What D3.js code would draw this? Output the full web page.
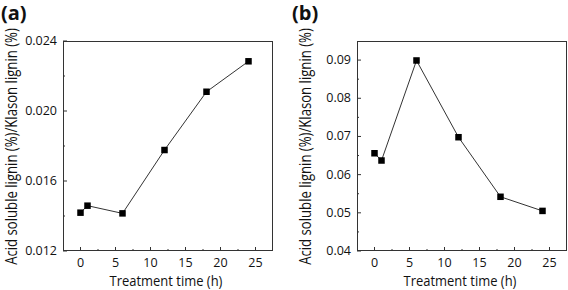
<!DOCTYPE html>
<html>
<head>
<meta charset="utf-8">
<script src="https://cdn.jsdelivr.net/npm/d3@7"></script>
<style>
  body { margin: 0; background: #fff; }
  text { font-family: "Open Sans", "Noto Sans", sans-serif; fill: #111; }
</style>
</head>
<body>
<div id="chart"></div>
<script>
// treatment times (h)
const times = [0, 1, 6, 12, 18, 24];
// panel (a) ratio values
const ratioA = [0.01419, 0.01459, 0.01415, 0.01777, 0.0211, 0.02284];
// panel (b) ratio values
const ratioB = [0.0656, 0.0637, 0.0899, 0.0698, 0.0542, 0.0505];

const xTicks = [0, 5, 10, 15, 20, 25];
const yTicksA = [0.012, 0.016, 0.020, 0.024];
const yTicksB = [0.04, 0.05, 0.06, 0.07, 0.08, 0.09];

const panels = [
    {label: "(a)", values: ratioA, yDomain: [0.012, 0.024], yTicks: yTicksA, yMinor: [0.014, 0.018, 0.022], fmt: d3.format(".3f"),
     left: 63, labelX: 1},
    {label: "(b)", values: ratioB, yDomain: [0.04, 0.095], yTicks: yTicksB, yMinor: [0.045, 0.055, 0.065, 0.075, 0.085], fmt: d3.format(".2f"),
     left: 357, labelX: 292}
];

const width = 568, height = 290;
const svg = d3.select("#chart").append("svg")
    .attr("width", width)
    .attr("height", height);

const plotTop = 41, plotBottom = 251, plotW = 210;

// squeeze a title horizontally (in its own frame) so it fits a target length
function fitTitle(sel, target, baseTransform) {
    let natural = sel.node().getComputedTextLength();
    let sx = Math.min(1, target / natural);
    sel.attr("transform", `${baseTransform} scale(${sx},1)`);
}

panels.forEach(p => {
    let x = d3.scaleLinear().domain([-2.5, 27.5]).range([p.left, p.left + plotW]);
    let y = d3.scaleLinear().domain(p.yDomain).range([plotBottom, plotTop]);

    let g = svg.append("g");

    // frame
    g.append("rect")
        .attr("x", p.left + 0.5).attr("y", plotTop + 0.5)
        .attr("width", plotW - 1).attr("height", plotBottom - plotTop - 1)
        .attr("fill", "none").attr("stroke", "#333").attr("stroke-width", 1);

    // x ticks (inward)
    g.selectAll(".xt").data(xTicks).enter().append("line")
        .attr("x1", d => x(d)).attr("x2", d => x(d))
        .attr("y1", plotBottom).attr("y2", plotBottom - 4)
        .attr("stroke", "#333");
    g.selectAll(".xm").data(xTicks.map(d => d - 2.5).concat([27.5]).filter(d => d > -2.5 && d < 27.5)).enter().append("line")
        .attr("x1", d => x(d)).attr("x2", d => x(d))
        .attr("y1", plotBottom).attr("y2", plotBottom - 2)
        .attr("stroke", "#333");
    g.selectAll(".xl").data(xTicks).enter().append("text")
        .attr("x", d => x(d)).attr("y", plotBottom + 16)
        .attr("text-anchor", "middle")
        .style("font-size", "12.5px")
        .text(d => d);

    // y ticks (inward)
    g.selectAll(".yt").data(p.yTicks).enter().append("line")
        .attr("x1", p.left).attr("x2", p.left + 4)
        .attr("y1", d => y(d)).attr("y2", d => y(d))
        .attr("stroke", "#333");
    g.selectAll(".ym").data(p.yMinor).enter().append("line")
        .attr("x1", p.left).attr("x2", p.left + 2)
        .attr("y1", d => y(d)).attr("y2", d => y(d))
        .attr("stroke", "#333");
    g.selectAll(".yl").data(p.yTicks).enter().append("text")
        .attr("x", p.left - 6).attr("y", d => y(d) + 4)
        .attr("text-anchor", "end")
        .style("font-size", "12.5px")
        .text(d => p.fmt(d));

    // line + markers
    let pts = times.map((t, i) => [t, p.values[i]]);
    g.append("path")
        .datum(pts)
        .attr("fill", "none")
        .attr("stroke", "#333")
        .attr("stroke-width", 1)
        .attr("d", d3.line().x(d => x(d[0])).y(d => y(d[1])));
    g.selectAll(".pt").data(pts).enter().append("rect")
        .attr("x", d => x(d[0]) - 3.25).attr("y", d => y(d[1]) - 3.25)
        .attr("width", 6.5).attr("height", 6.5)
        .attr("fill", "#000");

    // axis titles
    let xt = g.append("text")
        .attr("text-anchor", "middle")
        .style("font-size", "14px")
        .text("Treatment time (h)");
    fitTitle(xt, 113, `translate(${p.left + 103},286)`);

    let yt = g.append("text")
        .attr("text-anchor", "middle")
        .style("font-size", "16px")
        .text("Acid soluble lignin (%)/Klason lignin (%)");
    fitTitle(yt, 237, `translate(${p.left - 46},146.5) rotate(-90)`);

    // panel label
    g.append("text")
        .attr("x", p.labelX).attr("y", 20)
        .style("font-size", "20px").style("font-weight", "bold")
        .text(p.label);
});
</script>
</body>
</html>
